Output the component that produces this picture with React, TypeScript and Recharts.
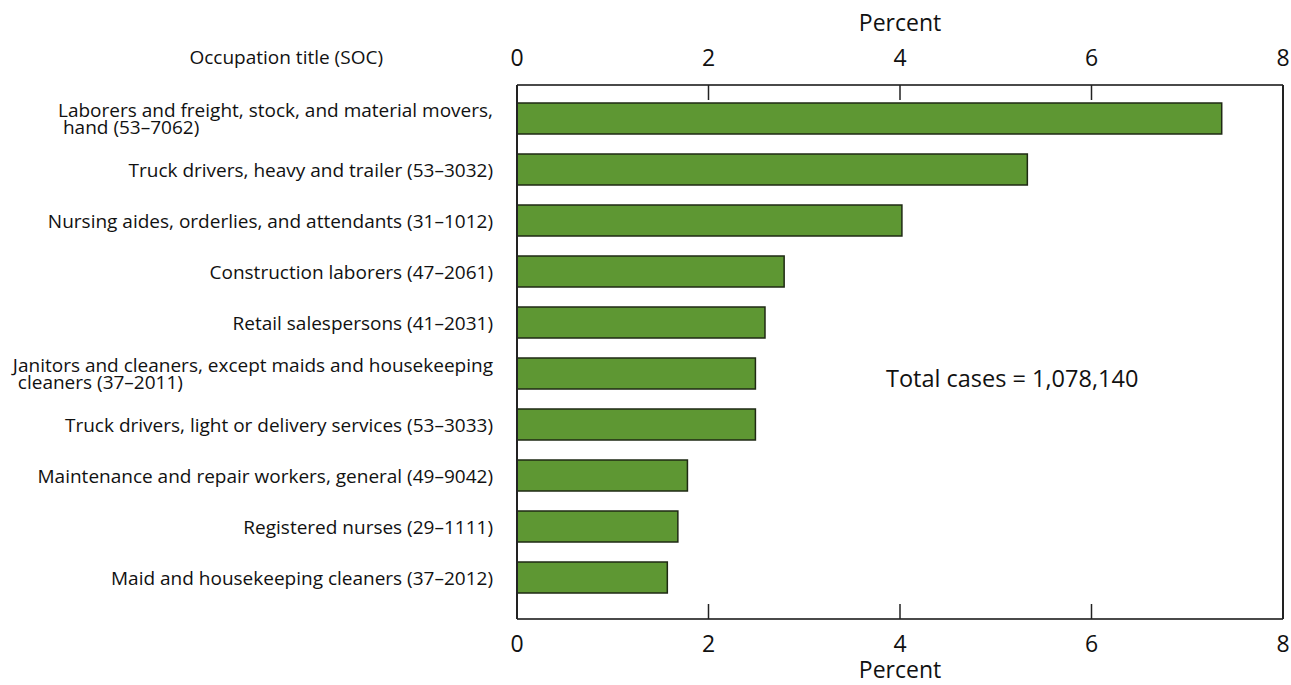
import React from "react";
import { BarChart, Bar, XAxis, YAxis, Label } from "recharts";

const occupations = [
  "Laborers and freight, stock, and material movers,\nhand (53–7062)",
  "Truck drivers, heavy and trailer (53–3032)",
  "Nursing aides, orderlies, and attendants (31–1012)",
  "Construction laborers (47–2061)",
  "Retail salespersons (41–2031)",
  "Janitors and cleaners, except maids and housekeeping\ncleaners (37–2011)",
  "Truck drivers, light or delivery services (53–3033)",
  "Maintenance and repair workers, general (49–9042)",
  "Registered nurses (29–1111)",
  "Maid and housekeeping cleaners (37–2012)",
];
const percents = [7.36, 5.33, 4.02, 2.79, 2.59, 2.49, 2.49, 1.78, 1.68, 1.57];
const xTicks = [0, 2, 4, 6, 8];
const axisTitle = "Percent";
const categoryHeader = "Occupation title (SOC)";
const totalNote = "Total cases = 1,078,140";

const data = occupations.map((name, i) => ({ name, value: percents[i] }));

const W = 1291;
const H = 685;
const PLOT_LEFT = 517;
const PLOT_TOP = 85;
const PLOT_BOTTOM = 619;
const BAR = 31;
const FONT = '"Open Sans", sans-serif';
const LABEL_SIZE = 19;
const TICK_SIZE = 23;
const BORDER = "#4a4a4a";

let ctx: CanvasRenderingContext2D | null = null;
function textWidth(s: string, size: number) {
  if (!ctx) ctx = document.createElement("canvas").getContext("2d");
  if (!ctx) return s.length * size * 0.46;
  ctx.font = `${size}px ${FONT}`;
  return ctx.measureText(s).width;
}

const CategoryTick = (props: any) => {
  const { x, y, payload } = props;
  const lines = String(payload.value).split("\n");
  const common = { fontSize: LABEL_SIZE, fontFamily: FONT, fill: "#111", dominantBaseline: "central" as const };
  if (lines.length === 1) {
    return <text x={x} y={y} textAnchor="end" {...common}>{lines[0]}</text>;
  }
  const start = x - textWidth(lines[0], LABEL_SIZE);
  return (
    <text {...common}>
      <tspan x={x} y={y - 8.5} textAnchor="end">{lines[0]}</tspan>
      <tspan x={start + 5} y={y + 8.5} textAnchor="start">{lines[1]}</tspan>
    </text>
  );
};

const last = xTicks[xTicks.length - 1];

function tickMark(x: number, value: number, y1: number, y2: number) {
  if (value <= 0 || value >= last) return null;
  return <line x1={x} x2={x} y1={y1} y2={y2} stroke="#222" strokeWidth={1.5} />;
}

const TopTick = (props: any) => {
  const { x, y, payload } = props;
  return (
    <g>
      <text x={x} y={y} textAnchor="middle" dominantBaseline="central" fontSize={TICK_SIZE} fontFamily={FONT} fill="#111">
        {payload.value}
      </text>
      {tickMark(x, payload.value, PLOT_TOP, PLOT_TOP + 15)}
    </g>
  );
};

const BottomTick = (props: any) => {
  const { x, y, payload } = props;
  return (
    <g>
      <text x={x} y={y} textAnchor="middle" dominantBaseline="central" fontSize={TICK_SIZE} fontFamily={FONT} fill="#111">
        {payload.value}
      </text>
      {tickMark(x, payload.value, PLOT_BOTTOM, PLOT_BOTTOM - 15)}
    </g>
  );
};

export default function App() {
  return (
    <div style={{ position: "absolute", left: 0, top: 0, width: W, height: H, background: "#fff" }}>
      <BarChart
        width={W}
        height={H}
        data={data}
        layout="vertical"
        barSize={BAR}
        barGap={-BAR}
        margin={{ top: 0, right: 0, bottom: 0, left: 0 }}
      >
        <XAxis
          xAxisId="top"
          orientation="top"
          type="number"
          domain={[0, last]}
          ticks={xTicks}
          height={PLOT_TOP}
          tickSize={0}
          tickMargin={28}
          tickLine={false}
          axisLine={{ stroke: BORDER, strokeWidth: 2 }}
          tick={<TopTick />}
        >
          <Label
            content={({ viewBox }: any) => (
              <text
                x={viewBox.x + viewBox.width / 2}
                y={22}
                textAnchor="middle"
                dominantBaseline="central"
                fontSize={23}
                fontFamily={FONT}
                fill="#111"
              >
                {axisTitle}
              </text>
            )}
          />
        </XAxis>
        <XAxis
          xAxisId="bottom"
          orientation="bottom"
          type="number"
          domain={[0, last]}
          ticks={xTicks}
          height={H - PLOT_BOTTOM}
          tickSize={0}
          tickMargin={24}
          tickLine={false}
          axisLine={{ stroke: BORDER, strokeWidth: 2 }}
          tick={<BottomTick />}
        >
          <Label
            content={({ viewBox }: any) => (
              <text
                x={viewBox.x + viewBox.width / 2}
                y={PLOT_BOTTOM + 50}
                textAnchor="middle"
                dominantBaseline="central"
                fontSize={23}
                fontFamily={FONT}
                fill="#111"
              >
                {axisTitle}
              </text>
            )}
          />
        </XAxis>
        <YAxis
          type="category"
          dataKey="name"
          width={PLOT_LEFT}
          interval={0}
          padding={{ top: 8, bottom: 16 }}
          tickSize={0}
          tickMargin={24}
          tickLine={false}
          axisLine={{ stroke: "#222", strokeWidth: 2 }}
          tick={<CategoryTick />}
        >
          <Label
            content={({ viewBox }: any) => (
              <text
                x={viewBox.x + viewBox.width - 134}
                y={PLOT_TOP - 28}
                textAnchor="end"
                dominantBaseline="central"
                fontSize={LABEL_SIZE}
                fontFamily={FONT}
                fill="#111"
              >
                {categoryHeader}
              </text>
            )}
          />
        </YAxis>
        <YAxis
          yAxisId="right"
          orientation="right"
          type="category"
          dataKey="name"
          width={W - 1283}
          tick={false}
          tickLine={false}
          axisLine={{ stroke: "#222", strokeWidth: 2 }}
        >
          <Label
            content={({ viewBox }: any) => (
              <text
                x={viewBox.x - 397}
                y={viewBox.y + 293}
                textAnchor="start"
                dominantBaseline="central"
                fontSize={23.5}
                fontFamily={FONT}
                fill="#111"
              >
                {totalNote}
              </text>
            )}
          />
        </YAxis>
        {/* invisible twin on the top axis so it gets a scale and ticks */}
        <Bar
          dataKey="value"
          xAxisId="top"
          fill="none"
          stroke="none"
          isAnimationActive={false}
        />
        <Bar
          dataKey="value"
          xAxisId="bottom"
          fill="#5e9733"
          stroke="#1f2a14"
          strokeWidth={1.5}
          isAnimationActive={false}
        />
      </BarChart>
    </div>
  );
}
